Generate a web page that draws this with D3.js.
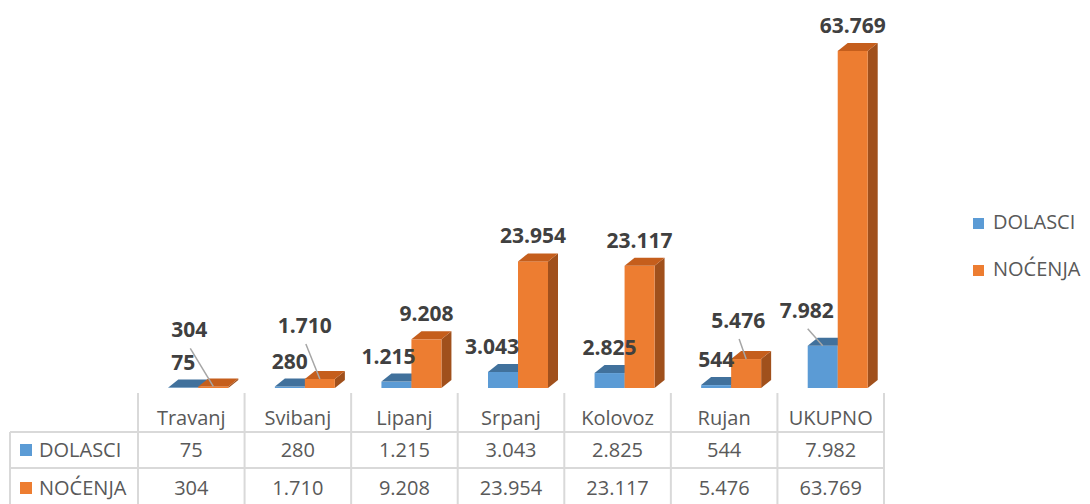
<!DOCTYPE html>
<html>
<head>
<meta charset="utf-8">
<script src="https://cdn.jsdelivr.net/npm/d3@7"></script>
<style>
  body { margin: 0; background: #fff; }
  svg { display: block; font-family: "Open Sans", sans-serif; }
</style>
</head>
<body>
<svg id="chart" width="1090" height="504"></svg>
<script>
(function() {

  // ---------------------------BEGIN: data---------------------------//
  var categories = ["Travanj", "Svibanj", "Lipanj", "Srpanj", "Kolovoz", "Rujan", "UKUPNO"];
  var seriesNames = ["DOLASCI", "NOĆENJA"];
  var dolasci = [75, 280, 1215, 3043, 2825, 544, 7982];
  var nocenja = [304, 1710, 9208, 23954, 23117, 5476, 63769];
  // ---------------------------END: data---------------------------//

  var colors = {
    front: ["#5b9bd5", "#ed7d31"],
    top:   ["#41719c", "#c55e1c"],
    side:  ["#3c6a93", "#a0501c"]
  };

  // manual label nudges (Excel moved a few labels and drew leader lines)
  var nudges = [
    [null, {dx: -24, dy: -31, leader: true}],
    [null, {dx: -15, dy: -28, leader: true}],
    [{dx: -8, dy: 0}, null],
    [{dx: -11, dy: 0}, null],
    [null, null],
    [null, {dx: -8, dy: -13, leader: true}],
    [{dx: -16, dy: -10, leader: true}, null]
  ];

  var fmt = function(v) { return d3.format(",")(v).replace(/,/g, "."); };

  var svg = d3.select("#chart");

  var x = d3.scaleBand().domain(categories).range([138, 884]).padding(0);
  var y = d3.scaleLinear().domain([0, 70000]).range([388, 18]);

  var barW = 30, depX = 10, depY = 8;

  var series = [dolasci, nocenja];

  // bars
  var gBars = svg.append("g");
  series.forEach(function(vals, s) {
    vals.forEach(function(v, i) {
      var cx = x(categories[i]) + x.bandwidth() / 2;
      var x0 = cx - 23 + s * barW, x1 = x0 + barW;
      var yt = y(v), yb = y(0);
      // side
      gBars.append("path")
        .attr("d", "M" + x1 + "," + yb + "L" + (x1 + depX) + "," + (yb - depY) +
                   "L" + (x1 + depX) + "," + (yt - depY) + "L" + x1 + "," + yt + "Z")
        .attr("fill", colors.side[s]);
      // front
      gBars.append("rect")
        .attr("x", x0).attr("y", yt)
        .attr("width", barW).attr("height", yb - yt)
        .attr("fill", colors.front[s]);
      // top
      gBars.append("path")
        .attr("d", "M" + x0 + "," + yt + "L" + x1 + "," + yt + "L" + (x1 + depX) + "," + (yt - depY) +
                   "L" + (x0 + depX) + "," + (yt - depY) + "Z")
        .attr("fill", colors.top[s]);
    });
  });

  // data labels
  var gLab = svg.append("g");
  series.forEach(function(vals, s) {
    vals.forEach(function(v, i) {
      var cx = x(categories[i]) + x.bandwidth() / 2 - 23 + s * barW + barW / 2;
      var base = y(v) - depY - 10;
      var n = nudges[i][s] || {dx: 0, dy: 0};
      var lx = cx + n.dx, ly = base + n.dy;
      if (n.leader) {
        gLab.append("line")
          .attr("x1", lx + 1).attr("y1", ly + 11)
          .attr("x2", cx).attr("y2", y(v))
          .attr("stroke", "#a6a6a6").attr("stroke-width", 1.5);
      }
      gLab.append("text")
        .attr("x", lx).attr("y", ly)
        .attr("text-anchor", "middle")
        .attr("font-size", 21).attr("font-weight", "bold")
        .attr("fill", "#404040")
        .text(fmt(v));
    });
  });

  // data table
  var gT = svg.append("g");
  var lineCol = "#d9d9d9";
  var rowY = [432, 468, 504];
  x.domain().forEach(function(c) {
    gT.append("line").attr("x1", x(c)).attr("x2", x(c))
      .attr("y1", 393).attr("y2", 504).attr("stroke", lineCol).attr("stroke-width", 2);
  });
  gT.append("line").attr("x1", 884).attr("x2", 884)
    .attr("y1", 393).attr("y2", 504).attr("stroke", lineCol).attr("stroke-width", 2);
  gT.append("line").attr("x1", 10).attr("x2", 10)
    .attr("y1", 432).attr("y2", 504).attr("stroke", lineCol).attr("stroke-width", 2);
  rowY.slice(0, 2).forEach(function(ry) {
    gT.append("line").attr("x1", 10).attr("x2", 884)
      .attr("y1", ry).attr("y2", ry).attr("stroke", lineCol).attr("stroke-width", 2);
  });

  categories.forEach(function(c) {
    gT.append("text")
      .attr("x", x(c) + x.bandwidth() / 2).attr("y", 425)
      .attr("text-anchor", "middle").attr("font-size", 20).attr("fill", "#595959")
      .text(c);
  });

  var rowBase = [457, 495];
  series.forEach(function(vals, s) {
    gT.append("rect").attr("x", 20).attr("y", rowBase[s] - 13)
      .attr("width", 12).attr("height", 12).attr("fill", colors.front[s]);
    gT.append("text").attr("x", 39).attr("y", rowBase[s])
      .attr("font-size", 20).attr("fill", "#595959").text(seriesNames[s]);
    vals.forEach(function(v, i) {
      gT.append("text")
        .attr("x", x(categories[i]) + x.bandwidth() / 2).attr("y", rowBase[s])
        .attr("text-anchor", "middle").attr("font-size", 20).attr("fill", "#595959")
        .text(fmt(v));
    });
  });

  // legend
  var legBase = [229, 276];
  seriesNames.forEach(function(name, s) {
    svg.append("rect").attr("x", 973).attr("y", legBase[s] - 11)
      .attr("width", 11).attr("height", 11).attr("fill", colors.front[s]);
    svg.append("text").attr("x", 993).attr("y", legBase[s])
      .attr("font-size", 20).attr("fill", "#595959").text(name);
  });
}());
</script>
</body>
</html>
